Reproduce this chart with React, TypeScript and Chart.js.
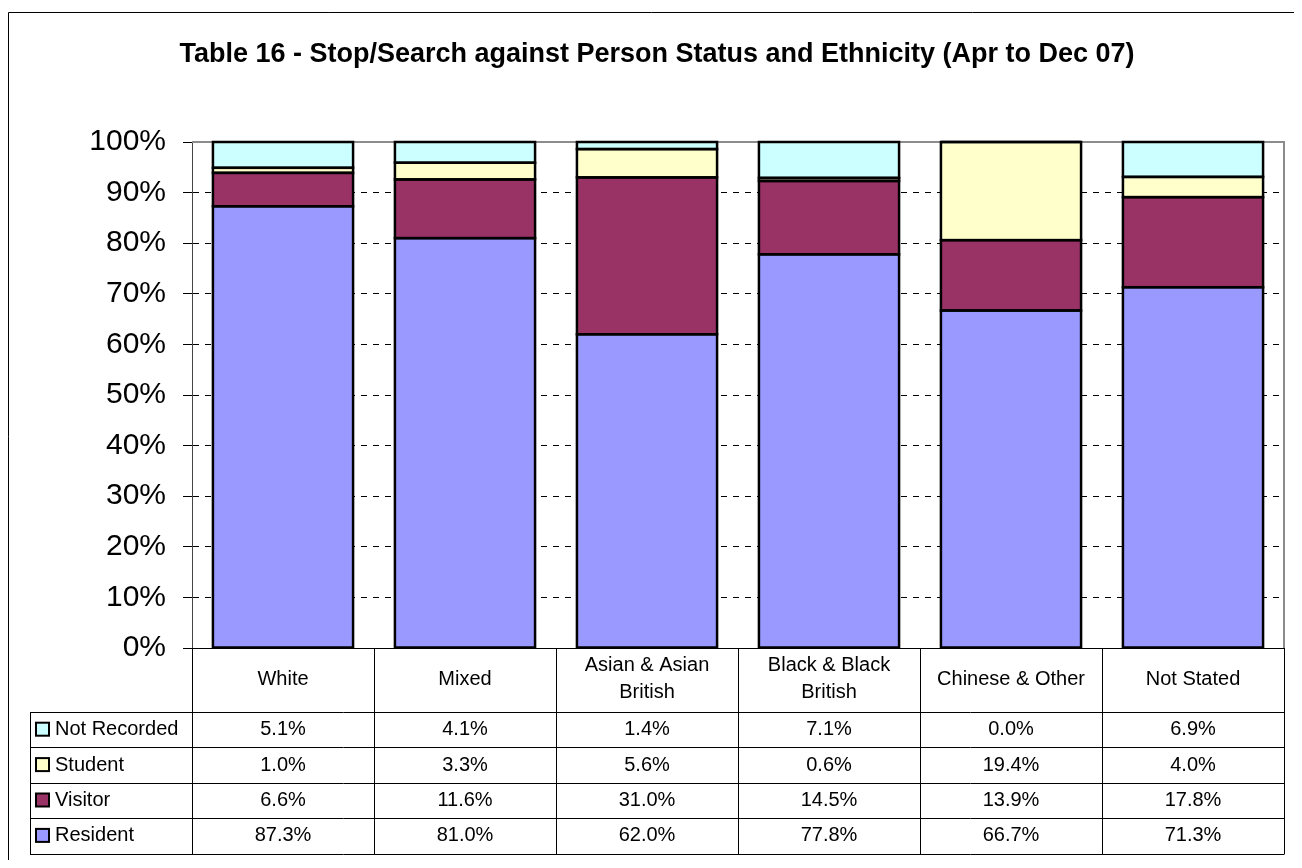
import React, { useEffect, useRef } from "react";
import { Chart, registerables } from "chart.js";

Chart.register(...registerables);

const FONT = "'Liberation Sans', Arial, sans-serif";

const titleText = "Table 16 - Stop/Search against Person Status and Ethnicity (Apr to Dec 07)";

const categories = ["White", "Mixed", "Asian & Asian British", "Black & Black British", "Chinese & Other", "Not Stated"];
const categoryLines = [["White"], ["Mixed"], ["Asian & Asian", "British"], ["Black & Black", "British"], ["Chinese & Other"], ["Not Stated"]];

const resident = [87.3, 81.0, 62.0, 77.8, 66.7, 71.3];
const visitor = [6.6, 11.6, 31.0, 14.5, 13.9, 17.8];
const student = [1.0, 3.3, 5.6, 0.6, 19.4, 4.0];
const notRecorded = [5.1, 4.1, 1.4, 7.1, 0.0, 6.9];

const seriesNames = ["Resident", "Visitor", "Student", "Not Recorded"];
const seriesColors = ["#9999FF", "#993366", "#FFFFCC", "#CCFFFF"];

const yMin = 0;
const yMax = 100;
const yStep = 10;

const W = 1286;
const H = 852;

const tablePlugin = {
  id: "tablePlugin",
  beforeDatasetsDraw(chart: any) {
    const ctx = chart.ctx;
    const { left, right, top } = chart.chartArea;
    ctx.save();
    ctx.strokeStyle = "#8c8c8c";
    ctx.lineWidth = 2;
    ctx.beginPath();
    ctx.moveTo(left, top);
    ctx.lineTo(right, top);
    ctx.lineTo(right, chart.chartArea.bottom);
    ctx.stroke();
    ctx.restore();
  },
  afterDatasetsDraw(chart: any) {
    const ctx = chart.ctx;
    ctx.save();
    ctx.strokeStyle = "#000";
    ctx.lineWidth = 2.5;
    chart.data.datasets.forEach((_d: any, di: number) => {
      const meta = chart.getDatasetMeta(di);
      meta.data.forEach((el: any) => {
        const p = el.getProps(["x", "y", "base", "width"], true);
        const l = p.x - p.width / 2;
        const t = Math.min(p.y, p.base);
        const h = Math.abs(p.base - p.y);
        ctx.strokeRect(l, t, p.width, h);
      });
    });
    ctx.restore();
  },
  afterDraw(chart: any) {
    const ctx = chart.ctx;
    const { left, right, bottom } = chart.chartArea;
    const xs = chart.scales.x;
    const n = chart.data.labels.length;
    const colW = (right - left) / n;
    ctx.save();

    // outer border (top and left visible)
    ctx.strokeStyle = "#000";
    ctx.lineWidth = 1;
    ctx.beginPath();
    ctx.moveTo(0.5, H);
    ctx.lineTo(0.5, 4.5);
    ctx.lineTo(W, 4.5);
    ctx.stroke();

    // title
    ctx.fillStyle = "#000";
    ctx.font = `bold 27px ${FONT}`;
    ctx.textAlign = "center";
    ctx.textBaseline = "alphabetic";
    ctx.fillText(titleText, 649, 54);

    const headerTop = bottom;
    const headerBottom = bottom + 64;
    const rowH = 35.4;
    const legendLeft = 22;
    const ds = chart.data.datasets.slice().reverse();
    const tableBottom = headerBottom + rowH * ds.length;

    ctx.strokeStyle = "#000";
    ctx.lineWidth = 1;
    ctx.beginPath();
    ctx.moveTo(left, Math.round(headerTop) + 0.5);
    ctx.lineTo(right, Math.round(headerTop) + 0.5);
    for (let r = 0; r <= ds.length; r++) {
      const y = Math.round(headerBottom + r * rowH) + 0.5;
      ctx.moveTo(legendLeft, y);
      ctx.lineTo(right, y);
    }
    for (let i = 0; i <= n; i++) {
      const x = Math.round(xs.getPixelForValue(Math.min(i, n - 1)) + (i === n ? colW / 2 : -colW / 2)) + 0.5;
      ctx.moveTo(x, headerTop);
      ctx.lineTo(x, Math.round(tableBottom) + 0.5);
    }
    ctx.moveTo(legendLeft + 0.5, Math.round(headerBottom) + 0.5);
    ctx.lineTo(legendLeft + 0.5, Math.round(tableBottom) + 0.5);
    ctx.stroke();

    // header labels
    ctx.font = `20px ${FONT}`;
    ctx.textAlign = "center";
    ctx.textBaseline = "middle";
    const headerMid = (headerTop + headerBottom) / 2 - 1;
    const lineGap = 27;
    for (let i = 0; i < n; i++) {
      const cx = xs.getPixelForValue(i);
      const lines = categoryLines[i];
      lines.forEach((t: string, k: number) => {
        const y = headerMid + (k - (lines.length - 1) / 2) * lineGap;
        ctx.fillText(t, cx, y);
      });
    }

    // rows
    ds.forEach((d: any, r: number) => {
      const cy = headerBottom + r * rowH + rowH / 2;
      ctx.fillStyle = d.backgroundColor;
      ctx.fillRect(28, cy - 7, 13, 13);
      ctx.strokeStyle = "#000";
      ctx.lineWidth = 2;
      ctx.strokeRect(28, cy - 7, 13, 13);
      ctx.fillStyle = "#000";
      ctx.textAlign = "left";
      ctx.fillText(d.label, 47, cy);
      ctx.textAlign = "center";
      d.data.forEach((v: number, i: number) => {
        ctx.fillText(v.toFixed(1) + "%", xs.getPixelForValue(i), cy);
      });
    });

    ctx.restore();
  },
};

export default function App() {
  const ref = useRef<HTMLCanvasElement | null>(null);

  useEffect(() => {
    if (!ref.current) return;
    const seriesData = [resident, visitor, student, notRecorded];
    const chart = new Chart(ref.current, {
      type: "bar",
      data: {
        labels: categories,
        datasets: seriesNames.map((name, i) => ({
          label: name,
          data: seriesData[i],
          backgroundColor: seriesColors[i],
          borderWidth: 0,
          barPercentage: 0.77,
          categoryPercentage: 1,
        })),
      },
      options: {
        responsive: false,
        animation: false,
        devicePixelRatio: 1,
        layout: { padding: { left: 0, right: 10, top: 134, bottom: 212 } },
        plugins: {
          legend: { display: false },
          tooltip: { enabled: false },
          title: { display: false },
        },
        scales: {
          x: { stacked: true, display: false },
          y: {
            stacked: true,
            min: yMin,
            max: yMax,
            afterFit: (s: any) => {
              s.width = 184;
            },
            ticks: {
              stepSize: yStep,
              color: "#000",
              padding: 17,
              font: { family: FONT, size: 30 },
              callback: (v: any) => v + "%",
            },
            grid: {
              color: (c: any) =>
                c.tick && (c.tick.value === yMin || c.tick.value === yMax) ? "rgba(0,0,0,0)" : "#000",
              lineWidth: 1,
              tickColor: "#000",
              tickLength: 9,
              tickBorderDash: [],
            },
            border: { display: true, color: "#444", width: 1, dash: [6, 6] },
          },
        },
      },
      plugins: [tablePlugin],
    } as any);
    return () => chart.destroy();
  }, []);

  return (
    <div style={{ width: W, height: H }}>
      <canvas ref={ref} width={W} height={H} style={{ display: "block" }} />
    </div>
  );
}
